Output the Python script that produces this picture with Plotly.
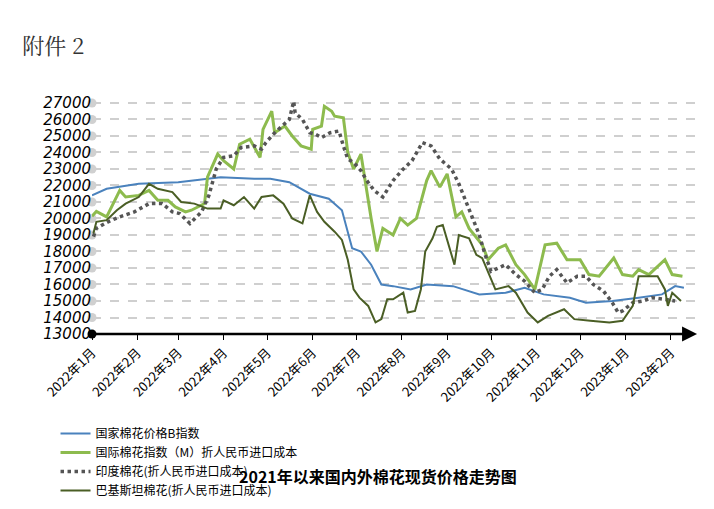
import plotly.graph_objects as go

# x = days since 2022-01-01
tick_days = [0, 31, 59, 90, 120, 151, 181, 212, 243, 273, 304, 334, 365, 396]
tick_labels = ["2022年1月", "2022年2月", "2022年3月", "2022年4月", "2022年5月", "2022年6月",
               "2022年7月", "2022年8月", "2022年9月", "2022年10月", "2022年11月",
               "2022年12月", "2023年1月", "2023年2月"]
y_ticks = list(range(13000, 28000, 1000))

b_days = [0, 10, 32, 59, 88, 111, 122, 135, 149, 162, 171, 178, 184, 191, 198, 206, 218, 229,
          247, 265, 283, 296, 309, 327, 338, 356, 374, 390, 399, 405]
b_vals = [21400, 21800, 22100, 22200, 22500, 22400, 22400, 22200, 21500, 21200, 20500, 18200,
          18000, 17200, 16000, 15900, 15700, 16000, 15900, 15400, 15500, 15800, 15400, 15200,
          14900, 15000, 15200, 15400, 15900, 15800]

m_days = [0, 3, 10, 19, 23, 32, 39, 45, 52, 57, 64, 68, 77, 79, 86, 90, 97, 101, 108, 115, 117,
          123, 125, 132, 137, 143, 150, 151, 157, 159, 164, 166, 172, 175, 179, 184, 191, 195,
          199, 206, 211, 216, 222, 229, 232, 238, 243, 249, 253, 258, 267, 271, 278, 283, 290,
          296, 303, 310, 318, 325, 334, 340, 347, 357, 363, 370, 374, 381, 392, 397, 404]
m_vals = [20140, 20430, 20100, 21700, 21300, 21400, 21700, 21100, 21100, 20700, 20400, 20500,
          20900, 22500, 23900, 23500, 23000, 24500, 24800, 23700, 25400, 26500, 25200, 25600,
          25000, 24400, 24200, 25400, 25600, 26800, 26500, 26200, 26100, 24000, 23000, 23900,
          20000, 18000, 19400, 19000, 20000, 19600, 20000, 22300, 22900, 21900, 22700, 20100,
          20400, 19400, 18400, 17500, 18200, 18400, 17200, 16600, 15700, 18400, 18500, 17500,
          17500, 16600, 16500, 17600, 16600, 16500, 16900, 16600, 17500, 16600, 16500]

i_days = [1, 3, 11, 19, 29, 39, 48, 55, 60, 67, 75, 80, 85, 90, 97, 102, 111, 116, 119, 124,
          130, 135, 138, 139, 144, 149, 153, 157, 163, 169, 172, 175, 179, 184, 188, 193, 199,
          206, 213, 219, 226, 232, 238, 246, 251, 256, 261, 265, 269, 273, 283, 290, 296, 303,
          308, 313, 318, 325, 332, 338, 343, 350, 356, 360, 363, 370, 377, 383, 392, 399]
i_vals = [18900, 19400, 19800, 20100, 20400, 20900, 20900, 20400, 20300, 19700, 20400, 21400,
          23000, 23700, 23800, 24300, 24400, 24200, 24600, 25100, 25600, 26000, 27100, 26400,
          26000, 25200, 25100, 24900, 25200, 25300, 24400, 23600, 23400, 22900, 22300, 21700,
          21300, 22300, 23000, 23500, 24600, 24400, 23600, 23000, 22100, 21000, 20000, 19000,
          17800, 16800, 17200, 16600, 16200, 15500, 15700, 16500, 16900, 16100, 16500, 16500,
          16000, 15600, 14900, 14300, 14400, 14900, 15000, 15200, 15100, 15000]

p_days = [1, 3, 10, 17, 23, 32, 39, 45, 55, 61, 70, 79, 88, 90, 97, 104, 111, 116, 124, 131,
          137, 144, 149, 154, 159, 166, 171, 175, 179, 183, 189, 194, 198, 202, 206, 213, 216,
          221, 225, 228, 233, 236, 240, 245, 248, 251, 258, 263, 267, 276, 285, 290, 298, 305,
          312, 323, 330, 341, 354, 363, 370, 374, 387, 392, 394, 397, 403]
p_vals = [19100, 19800, 19900, 20500, 20900, 21300, 22100, 21800, 21600, 21000, 20900, 20600,
          20600, 21100, 20800, 21300, 20600, 21300, 21400, 20900, 20000, 19700, 21400, 20400,
          19800, 19200, 18700, 17500, 15700, 15200, 14700, 13700, 13900, 15100, 15100, 15500,
          14300, 14400, 15700, 18000, 18800, 19500, 19600, 18000, 17200, 19000, 18800, 17800,
          17600, 15700, 15900, 15500, 14300, 13700, 14100, 14500, 13900, 13800, 13700, 13800,
          14700, 16500, 16500, 15700, 14700, 15500, 15000]

fig = go.Figure()
# grey dots at left end of each gridline
fig.add_trace(go.Scatter(x=[0] * (len(y_ticks) - 1), y=y_ticks[1:], mode="markers",
                         marker=dict(color="#d0d0d0", size=9), showlegend=False,
                         hoverinfo="skip", cliponaxis=False))
fig.add_trace(go.Scatter(x=b_days, y=b_vals, mode="lines", name="国家棉花价格B指数",
                         line=dict(color="#4a82bd", width=2)))
fig.add_trace(go.Scatter(x=m_days, y=m_vals, mode="lines", name="国际棉花指数（M）折人民币进口成本",
                         line=dict(color="#8dbb4e", width=3)))
fig.add_trace(go.Scatter(x=i_days, y=i_vals, mode="lines", name="印度棉花(折人民币进口成本)",
                         line=dict(color="#555555", width=3.5, dash="dot")))
fig.add_trace(go.Scatter(x=p_days, y=p_vals, mode="lines", name="巴基斯坦棉花(折人民币进口成本)",
                         line=dict(color="#4a5e25", width=2)))

fig.add_annotation(x=414, y=13000, ax=0, ay=13000, xref="x", yref="y", axref="x", ayref="y",
                   showarrow=True, arrowhead=2, arrowsize=1.2, arrowwidth=2.5, arrowcolor="black",
                   text="")
fig.add_trace(go.Scatter(x=[0], y=[13000], mode="markers", marker=dict(color="black", size=9),
                         showlegend=False, hoverinfo="skip", cliponaxis=False))

fig.update_layout(
    width=714, height=509, plot_bgcolor="white", paper_bgcolor="white",
    margin=dict(l=84, r=22, t=90, b=169),
    font=dict(family="DejaVu Sans, Noto Sans CJK SC", color="black"),
    title=dict(text="附件 2", x=0.02, xanchor="left", y=0.925, yanchor="middle",
               font=dict(family="Noto Serif CJK SC, Noto Sans CJK SC", size=22, color="#333")),
    legend=dict(orientation="h", x=-0.06, y=-0.36, yanchor="top", entrywidth=330,
                entrywidthmode="pixels", tracegroupgap=0,
                font=dict(size=12, family="Noto Sans CJK SC")),
    showlegend=True,
)
fig.add_annotation(text="<b>2021年以来国内外棉花现货价格走势图</b>", xref="paper", yref="paper",
                   x=0.47, y=-0.66, showarrow=False, font=dict(size=16, family="Noto Sans CJK SC"))
fig.update_xaxes(range=[0, 416], tickvals=tick_days, ticktext=tick_labels, tickangle=-45,
                 showgrid=False, zeroline=False, ticks="outside", ticklen=5, tickcolor="black",
                 tickfont=dict(size=13, family="Noto Sans CJK SC"))
fig.update_yaxes(range=[13000, 27300], tickvals=y_ticks, showgrid=True, gridcolor="#cfcfcf",
                 griddash="dash", gridwidth=1.5, zeroline=False, showline=False,
                 tickfont=dict(size=15, family="DejaVu Sans", style="italic"), tickformat="d")
fig.write_html("out.html")
